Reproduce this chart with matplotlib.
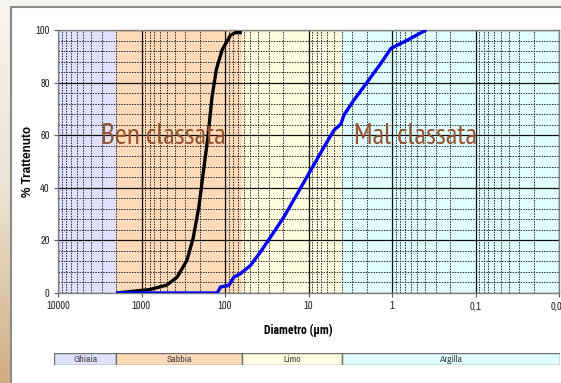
import numpy as np
import matplotlib
matplotlib.use("Agg")
import matplotlib.pyplot as plt
from matplotlib.ticker import LogLocator, MultipleLocator, FixedLocator, NullFormatter
from matplotlib.patches import Rectangle
from matplotlib.colors import LinearSegmentedColormap

# curve granulometriche (diametro in micron, % trattenuto)
d_ben = [2000, 1400, 800, 500, 375, 285, 240, 205, 180, 160, 143, 127, 108, 86, 75, 63]
ben   = [0, 0.5, 1.3, 3, 6, 12.5, 21, 33, 47, 59.5, 74.5, 85, 92.5, 98, 99, 99]

d_mal = [2000, 124, 113, 90, 78.5, 65, 49.5, 37.6, 28.5, 19.7, 13.6, 9.4, 6.5,
         4.95, 4.1, 3.76, 2.85, 1.97, 1.36, 1.03, 0.65, 0.39]
mal   = [0, 0, 2.3, 2.9, 6, 7.4, 10.5, 15.6, 21.3, 28.9, 37.8, 46.7, 55.6,
         61.9, 64.2, 67.7, 73.4, 80.3, 87.3, 93, 96.2, 100]

# classi granulometriche
classi   = ["Ghiaia", "Sabbia", "Limo", "Argilla"]
limiti   = [10000, 2000, 63, 4, 0.01]
colori   = ["#E0E0FF", "#FFDAB9", "#FFFDE0", "#E0FFFF"]

xticks  = [10000, 1000, 100, 10, 1, 0.1, 0.01]
xlabels = ["10000", "1000", "100", "10", "1", "0,1", "0,01"]
yticks  = [0, 20, 40, 60, 80, 100]

NARROW = ["Archivo Narrow", "PT Sans Narrow", "Liberation Sans"]
COND   = ["PT Sans Narrow", "Fira Sans Extra Condensed", "DejaVu Sans"]
BOLDN  = ["Roboto Condensed", "Liberation Sans", "DejaVu Sans"]

W, H = 561, 383
fig = plt.figure(figsize=(W / 100, H / 100), dpi=100)

# sfondo con sfumatura
bg = fig.add_axes([0, 0, 1, 1], zorder=-10)
cmap = LinearSegmentedColormap.from_list("bg", ["#F7F5F0", "#EDE3D3", "#D0AD84"])
bg.imshow(np.linspace(0, 1, 256).reshape(-1, 1), aspect="auto", cmap=cmap,
          extent=[0, 1, 0, 1], origin="upper")
bg.set_xlim(0, 1)
bg.set_ylim(0, 1)
bg.axis("off")
bg.add_patch(Rectangle((11 / W, -0.05), 1.1, 1 - 7 / H + 0.05,
                       facecolor="white", edgecolor="#8A8A8A", lw=1.5))

def px(x0, y0, x1, y1):
    return [x0 / W, 1 - y1 / H, (x1 - x0) / W, (y1 - y0) / H]

ax = fig.add_axes(px(58, 30, 559, 293))
for i in range(len(classi)):
    ax.axvspan(limiti[i], limiti[i + 1], color=colori[i], zorder=0.2, lw=0)

ax.plot(d_ben, ben, color="black", lw=2.4, solid_capstyle="butt", zorder=3)
ax.plot(d_mal, mal, color="#0000EE", lw=2.4, solid_capstyle="butt", zorder=3)

ax.set_xscale("log")
ax.set_xlim(10000, 0.01)
ax.set_ylim(0, 100)
ax.set_axisbelow(True)
ax.xaxis.set_major_locator(FixedLocator(xticks))
ax.set_xticklabels(xlabels)
ax.xaxis.set_minor_locator(LogLocator(base=10, subs=np.arange(2, 10)))
ax.xaxis.set_minor_formatter(NullFormatter())
ax.yaxis.set_major_locator(FixedLocator(yticks))
ax.yaxis.set_minor_locator(MultipleLocator(4))
ax.grid(which="major", color="#111111", lw=0.9, ls="-")
ax.grid(which="minor", color="#2a2a2a", lw=0.7, ls=(0, (1.5, 1.2)))
ax.tick_params(which="major", length=3, width=0.8, color="#555555",
               labelsize=7.5, labelcolor="#222222", pad=3)
ax.tick_params(which="minor", length=0)
for lab in ax.get_xticklabels() + ax.get_yticklabels():
    lab.set_family(NARROW)
for s in ax.spines.values():
    s.set_color("#808080")
    s.set_linewidth(1.0)

ax.set_xlabel("Diametro (µm)", fontsize=8.5, fontweight="bold", family=BOLDN)
ax.set_ylabel("% Trattenuto", fontsize=8.5, fontweight="bold",
              family=["Liberation Sans", "DejaVu Sans"])
ax.xaxis.set_label_coords(0.479, -0.115)
ax.yaxis.set_label_coords(-0.048, 0.5)

testo = dict(color="#94532F", fontsize=21, ha="center", va="center",
             family=COND, zorder=4)
ax.text(546, 59.5, "Ben classata", **testo)
ax.text(0.53, 59.5, "Mal classata", **testo)

# barra delle classi
lg = fig.add_axes(px(54, 353, 560, 365))
lg.set_xscale("log")
lg.set_xlim(11170, 0.0097)
lg.set_ylim(0, 1)
bordi = [11170, 2000, 63, 4, 0.0097]
for i in range(len(classi)):
    lg.axvspan(bordi[i], bordi[i + 1], facecolor=colori[i],
               edgecolor="#707070", lw=1.0)
    lg.text(np.sqrt(bordi[i] * bordi[i + 1]), 0.5, classi[i], ha="center",
            va="center", fontsize=7, color="#444444", family=NARROW)
lg.axis("off")

fig.savefig("out.png", dpi=100)
